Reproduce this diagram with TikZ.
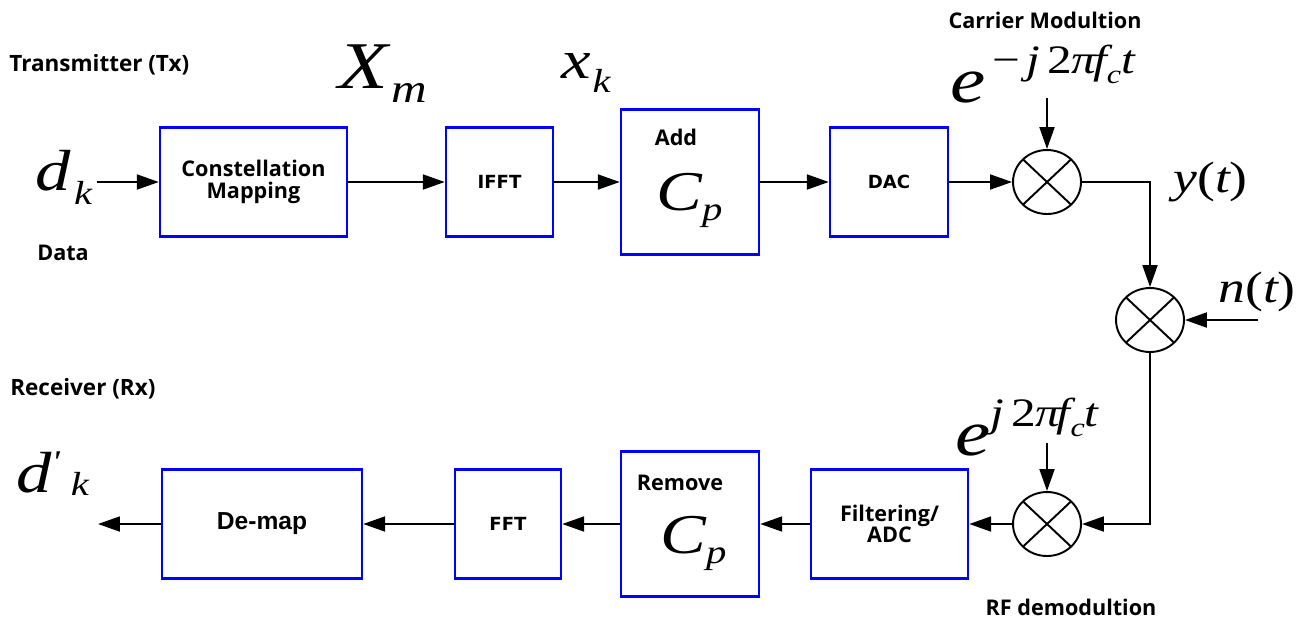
\documentclass[tikz,border=0pt]{standalone}
\usepackage{fontspec}
\setmainfont{Open Sans}
\newfontfamily\tms{Liberation Serif}[FakeStretch=1.22]
\newfontfamily\lsans{Liberation Sans}
\newfontfamily\dvs{DejaVu Sans}
\usetikzlibrary{arrows.meta,shapes.geometric}

\newcommand\fsz[1]{\fontsize{#1}{#1}\selectfont}
\newcommand\lowr[3]{\raisebox{#1}{\fsz{#2}#3}}

\begin{document}
\begin{tikzpicture}[x=0.02cm, y=-0.02cm,
  blk/.style={draw=blue, line width=1.4pt, inner sep=0pt, align=center,
    minimum height=2.18cm, font=\bfseries\fsz{12.3}},
  mix/.style={ellipse, draw, line width=1.1pt, minimum width=1.36cm,
    minimum height=1.28cm, inner sep=0pt,
    path picture={\draw[line width=1.1pt]
      (path picture bounding box.north west) -- (path picture bounding box.south east)
      (path picture bounding box.north east) -- (path picture bounding box.south west);}},
  wire/.style={line width=1.2pt, -{Triangle[length=12.5pt,width=8.5pt]}},
  lbl/.style={font=\bfseries\fsz{12.3}, inner sep=0pt},
  eqn/.style={font=\tms\itshape, inner sep=0pt, anchor=base west}
]
\useasboundingbox (0,0) rectangle (1307,620);

% Transmitter side
\node[lbl, anchor=west, font=\bfseries\fsz{12.8}] (txlbl) at (9,65) {Transmitter (Tx)};
\node[eqn] (dk) at (35,190) {\fsz{33}d\kern2pt\lowr{-8.5pt}{19}{k}};
\node[lbl] (datalbl) at (63,253) {Data};
\node[eqn] (xm) at (338,88) {\fsz{38}X\kern2pt\lowr{-8.5pt}{23}{m}};
\node[eqn] (xk) at (561,78) {\fsz{31}x\kern1pt\lowr{-8pt}{19}{k}};

\node[blk, minimum width=3.74cm] (cmap) at (253.5,182) {Constellation\\Mapping};
\node[blk, minimum width=2.14cm, font=\dvs\bfseries\fsz{10.3}] (ifft) at (499.5,182) {IFFT};
\node[blk, minimum width=2.76cm, minimum height=2.9cm] (addcp) at (690,182) {};
\node[lbl] (addlbl) at (676,137) {Add};
\node[eqn] (cpa) at (656,210) {\fsz{32}C\lowr{-5.7pt}{19}{p}};
\node[blk, minimum width=2.36cm, font=\dvs\bfseries\fsz{10.3}] (dac) at (889,182) {DAC};

% Carrier and channel
\node[mix] (mixA) at (1047,182) {};
\node[lbl] (carlbl) at (1045,20) {Carrier Modultion};
\node[eqn] (ejm) at (950,102) {\fsz{37}e\raisebox{16.4pt}{\fsz{23}{\upshape\,−\,}j\,{\upshape 2}π\kern-2pt f\lowr{-5.7pt}{15}{c}t}};
\coordinate (cin) at (1047,98);
\node[eqn] (yt) at (1173,192) {\fsz{25}y{\upshape(}t{\upshape)}};

\node[mix] (mixB) at (1150,320) {};
\node[eqn] (nt) at (1218,302) {\fsz{25}n{\upshape(}t{\upshape)}};
\coordinate (nin) at (1258,320);

% Receiver side
\node[mix] (mixC) at (1047,524) {};
\node[eqn] (ejp) at (955,455) {\fsz{37}e\raisebox{16.4pt}{\fsz{23}j\,{\upshape 2}π\kern-2pt f\lowr{-5.7pt}{15}{c}t}};
\coordinate (rin) at (1047,443);
\node[lbl] (rflbl) at (1071,607) {RF demodultion};

\node[blk, minimum width=3.14cm] (filt) at (889.5,524) {Filtering/\\ADC};
\node[blk, minimum width=2.76cm, minimum height=2.9cm] (rmcp) at (690,524) {};
\node[lbl] (rmlbl) at (680,483) {Remove};
\node[eqn] (cpb) at (660,553) {\fsz{32}C\lowr{-5.7pt}{19}{p}};
\node[blk, minimum width=2.12cm, font=\dvs\bfseries\fsz{10.3}] (fft) at (508,524) {FFT};
\node[blk, minimum width=4cm, font=\lsans\bfseries\fsz{14}] (demap) at (262,524) {De-map};

\node[lbl, anchor=west, font=\bfseries\fsz{12.8}] (rxlbl) at (10,389) {Receiver (Rx)};
\node[eqn] (dpk) at (16,492) {\fsz{33}d\lowr{11pt}{18}{\textquotesingle}\hspace{7pt}\lowr{-2pt}{19}{k}};
\coordinate (din) at (97,182);
\coordinate (dout) at (98,524);

% Connections
\draw[wire] (din) -- (cmap);
\draw[wire] (cmap) -- (ifft);
\draw[wire] (ifft) -- (addcp);
\draw[wire] (addcp) -- (dac);
\draw[wire] (dac) -- (mixA);
\draw[wire] (cin) -- (mixA);
\draw[wire] (mixA.east) -| (mixB.north);
\draw[wire] (nin) -- (mixB);
\draw[wire] (mixB.south) |- (mixC.east);
\draw[wire] (rin) -- (mixC);
\draw[wire] (mixC) -- (filt);
\draw[wire] (filt) -- (rmcp);
\draw[wire] (rmcp) -- (fft);
\draw[wire] (fft) -- (demap);
\draw[wire] (demap) -- (dout);

\end{tikzpicture}
\end{document}
